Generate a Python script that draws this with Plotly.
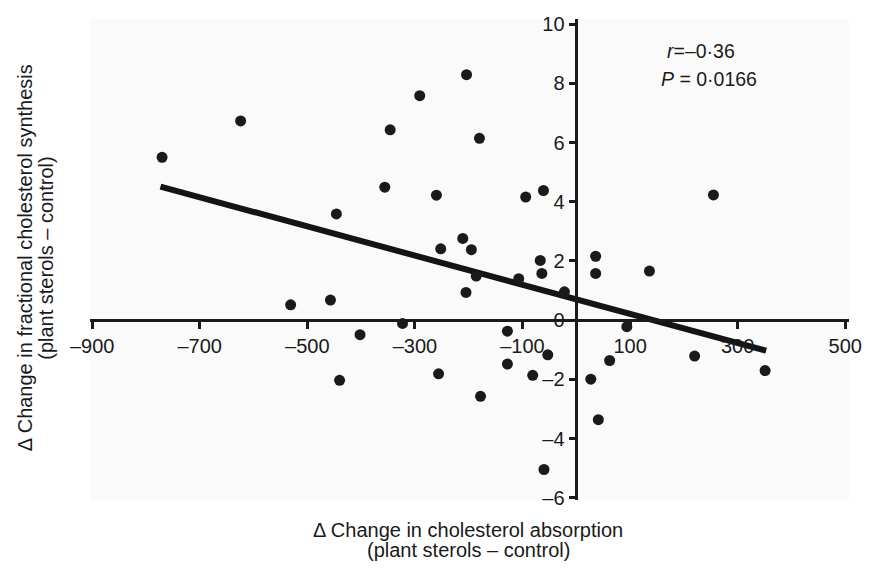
import plotly.graph_objects as go

# Scatter data: change in cholesterol absorption (x) vs change in fractional synthesis (y)
absorption = [-770, -624, -531, -457, -440, -402, -323, -256, -446, -346, -356, -291,
              -260, -204, -252, -211, -195, -180, -94, -61, 255, 36, -67, -64, 36, 136,
              -205, -186, -107, -22, -128, 94, -53, -128, 62, 220, 351, -81, 27, -178,
              41, -60]
synthesis = [5.5, 6.73, 0.52, 0.68, -2.03, -0.49, -0.11, -1.81, 3.59, 6.43, 4.49, 7.58,
             4.22, 8.29, 2.41, 2.76, 2.38, 6.14, 4.16, 4.38, 4.23, 2.16, 2.02, 1.58, 1.58, 1.66,
             0.94, 1.49, 1.4, 0.96, -0.37, -0.22, -1.17, -1.48, -1.36, -1.21, -1.7, -1.86, -1.99, -2.57,
             -3.36, -5.04]

# Regression line endpoints
fit_x = [-773, 353]
fit_y = [4.51, -1.03]

x_tickvals = [-900, -700, -500, -300, -100, 100, 300, 500]
x_ticktext = ["–900", "–700", "–500", "–300", "–100", "100", "300", "500"]
y_tickvals = [10, 8, 6, 4, 2, 0, -2, -4, -6]
y_ticktext = ["10", "8", "6", "4", "2", "0", "–2", "–4", "–6"]

x_range = [-904, 507]
y_range = [-6.07, 10.17]

FONT = "Liberation Sans, Arial, Helvetica, sans-serif"
INK = "#1a1a1a"

# the page body keeps its default 8px margin on every side; size the figure so the
# whole page is exactly the 875x569 window
OFF = 8
W, H = 875 - 2 * OFF, 569 - 2 * OFF

fig = go.Figure()
fig.add_trace(go.Scatter(x=fit_x, y=fit_y, mode="lines",
                         line=dict(color="#141414", width=6), hoverinfo="skip",
                         showlegend=False))
fig.add_trace(go.Scatter(x=absorption, y=synthesis, mode="markers",
                         marker=dict(color=INK, size=11, line=dict(width=0)),
                         showlegend=False))

x0_frac = (0 - y_range[0]) / (y_range[1] - y_range[0])
y0_frac = (0 - x_range[0]) / (x_range[1] - x_range[0])

axis_common = dict(showgrid=False, zeroline=False, showline=True, linecolor=INK, linewidth=2.5,
                   ticks="outside", ticklen=7, tickwidth=2.5, tickcolor=INK,
                   tickfont=dict(size=20, color=INK, family=FONT),
                   anchor="free", ticklabeloverflow="allow")

# plot area in window pixels
pl, pr, pt, pb = 90, 862, 13, 500

fig.update_layout(
    width=W, height=H,
    margin=dict(l=pl - OFF, r=(OFF + W) - pr, t=pt - OFF, b=(OFF + H) - pb),
    paper_bgcolor="white",
    plot_bgcolor="#fafafa",
    font=dict(family=FONT, color=INK),
    xaxis=dict(range=x_range, tickvals=x_tickvals, ticktext=x_ticktext,
               position=x0_frac, **axis_common),
    yaxis=dict(range=y_range, tickvals=y_tickvals, ticktext=y_ticktext,
               position=y0_frac, **axis_common),
)

TF = dict(size=20, family=FONT, color=INK)
SF = dict(size=19.5, family=FONT, color=INK)
ann_px = [
    dict(text="<i>r</i>=–0·36", x=675, y=45, xanchor="left", font=SF),
    dict(text="<i>P</i> = 0·0166", x=669, y=74, xanchor="left", font=SF),
    dict(text="Δ Change in cholesterol absorption", x=474.5, y=530, xanchor="center", font=TF),
    dict(text="(plant sterols – control)", x=474.5, y=551, xanchor="center", font=TF),
    dict(text="Δ Change in fractional cholesterol synthesis", x=24, y=255, xanchor="center",
         textangle=-90, font=TF),
    dict(text="(plant sterols – control)", x=45, y=255, xanchor="center",
         textangle=-90, font=TF),
]

for a in ann_px:
    a["x"] = (a["x"] - pl) / (pr - pl)
    a["y"] = (pb - a["y"]) / (pb - pt)
    fig.add_annotation(xref="paper", yref="paper", showarrow=False, yanchor="middle", **a)

fig.write_html("out.html", config={"displayModeBar": False})
